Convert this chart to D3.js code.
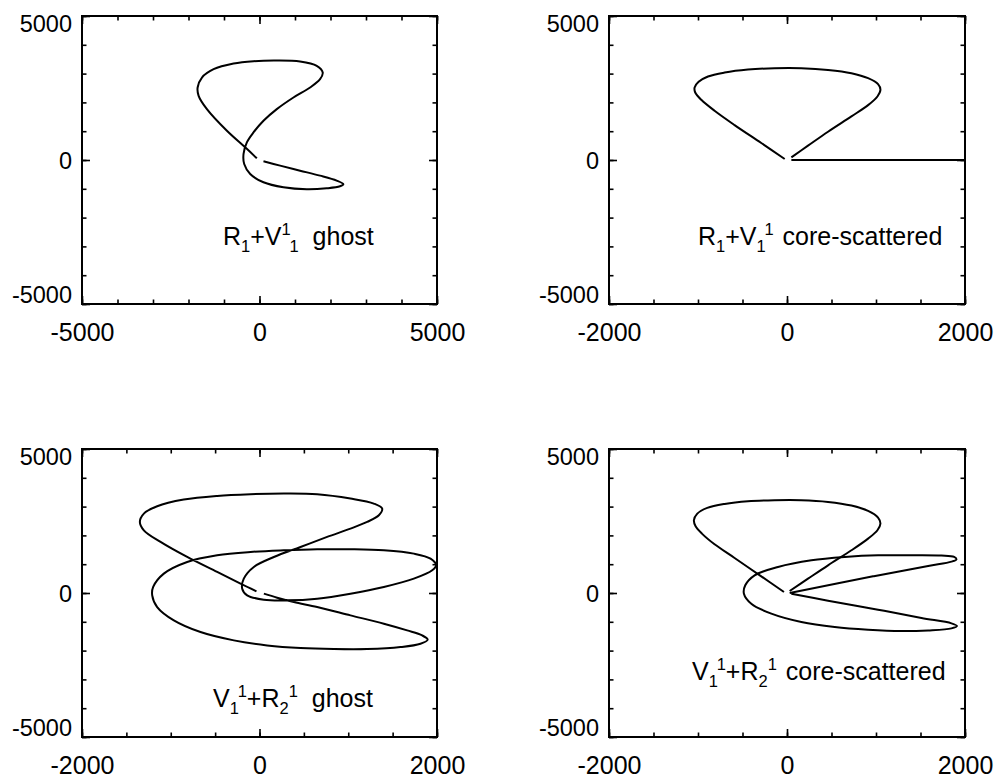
<!DOCTYPE html>
<html>
<head>
<meta charset="utf-8">
<title>Ghost and core-scattered curves</title>
<script src="https://cdn.jsdelivr.net/npm/d3@7"></script>
<style>
body { margin:0; background:#fff; }
text { font-family:"Liberation Sans", Arial, sans-serif; fill:#000; white-space:pre; }
</style>
</head>
<body>
<div id="chart"></div>
<script>
// tick labels
var xTicksWide = [-5000, 0, 5000];
var xTicksNarrow = [-2000, 0, 2000];
var yTicks = [-5000, 0, 5000];

// curves (data units)
var ghost1 = [[-75,58],[-403,439],[-918,1016],[-1481,1767],[-1715,2229],[-1743,2517],[-1621,2864],
  [-1293,3152],[-731,3349],[-169,3430],[487,3453],[1143,3418],[1612,3268],[1781,3037],[1706,2806],
  [1425,2517],[956,2171],[487,1767],[112,1363],[-169,958],[-356,612],[-450,208],[-431,-139],
  [-262,-485],[112,-774],[675,-947],[1331,-1016],[1893,-982],[2268,-912],[2362,-840],[2174,-716],
  [1706,-543],[1143,-370],[581,-196],[112,-46]];

var core1Loop = [[-26,35],[-289,589],[-589,1212],[-814,1709],[-963,2090],[-1031,2344],[-1038,2517],
  [-993,2714],[-888,2898],[-701,3037],[-439,3141],[-139,3187],[161,3187],[461,3129],[724,3014],
  [911,2841],[1023,2633],[1050,2436],[1016,2206],[911,1905],[724,1513],[461,982],[236,497],[49,92]];
var core1Tail = [[49,0],[2000,0]];

var ghost2 = [[-34,58],[-214,324],[-477,730],[-815,1251],[-1115,1773],[-1303,2178],[-1348,2468],
  [-1303,2758],[-1153,3013],[-853,3244],[-477,3372],[-101,3430],[274,3453],[650,3430],[1025,3279],
  [1288,3105],[1382,2932],[1345,2700],[1213,2468],[1025,2236],[762,1947],[462,1599],[162,1251],
  [-64,904],[-177,498],[-195,151],[-139,-81],[49,-232],[312,-255],[650,-197],[1025,-23],[1401,209],
  [1739,498],[1946,788],[1990,962],[1927,1193],[1739,1367],[1401,1483],[1025,1518],[650,1518],
  [274,1483],[-101,1425],[-477,1309],[-815,1078],[-1078,672],[-1198,209],[-1209,-81],[-1153,-487],
  [-965,-950],[-665,-1356],[-289,-1645],[86,-1819],[462,-1912],[838,-1947],[1213,-1947],[1589,-1877],
  [1814,-1761],[1895,-1622],[1833,-1472],[1664,-1298],[1401,-1066],[1025,-776],[650,-487],
  [387,-313],[199,-162],[49,-23]];

var core2Loop = [[-34,35],[-289,579],[-589,1217],[-814,1692],[-956,2063],[-1027,2317],[-1046,2526],
  [-1008,2758],[-896,2955],[-701,3094],[-439,3187],[-139,3221],[161,3221],[461,3163],[724,3036],
  [911,2851],[1023,2619],[1050,2410],[1016,2178],[911,1889],[724,1483],[461,962],[236,498],[30,70]];
var core2Lobes = [[30,0],[967,579],[1586,939],[1848,1089],[1904,1170],[1878,1251],[1736,1298],
  [1398,1309],[1023,1309],[649,1251],[274,1136],[-101,904],[-364,614],[-469,267],[-484,-23],
  [-401,-371],[-176,-718],[161,-1008],[536,-1182],[911,-1275],[1286,-1321],[1586,-1298],
  [1848,-1228],[1910,-1147],[1848,-1054],[1511,-870],[1023,-580],[461,-270],[49,-23]];

// annotation pieces: [text, "sub"|"sup"|""]
var label1 = [["R",""],["1","sub"],["+V",""],["1","sup"],["1","sub"],[" ghost",""]];
var label2 = [["R",""],["1","sub"],["+V",""],["1","sub"],["1","sup"],[" core-scattered",""]];
var label3 = [["V",""],["1","sub"],["1","sup"],["+R",""],["2","sub"],["1","sup"],[" ghost",""]];
var label4 = [["V",""],["1","sub"],["1","sup"],["+R",""],["2","sub"],["1","sup"],[" core-scattered",""]];

var panels = [
  {box:[82,16,437,304],  xd:[-5000,5000], xt:xTicksWide,   xm:1000, curves:[ghost1],               label:label1, lx:223, ly:245, gap:7},
  {box:[609,16,965,304], xd:[-2000,2000], xt:xTicksNarrow, xm:500,  curves:[core1Loop,core1Tail],  label:label2, lx:698, ly:245, gap:2},
  {box:[82,449,437,737], xd:[-2000,2000], xt:xTicksNarrow, xm:500,  curves:[ghost2],               label:label3, lx:213, ly:707, gap:7},
  {box:[609,449,965,737],xd:[-2000,2000], xt:xTicksNarrow, xm:500,  curves:[core2Loop,core2Lobes], label:label4, lx:692, ly:680, gap:2}
];

var svg = d3.select("#chart").append("svg")
    .attr("width", 995)
    .attr("height", 778);

var majorLen = 8, minorLen = 4.5;
var fmt = function(d) { return String(d); };

panels.forEach(function(p) {
    var x0 = p.box[0], y0 = p.box[1], x1 = p.box[2], y1 = p.box[3];
    var x = d3.scaleLinear().domain(p.xd).range([x0, x1]);
    var y = d3.scaleLinear().domain([-5000, 5000]).range([y1, y0]);
    var xMinor = d3.range(p.xd[0], p.xd[1] + 1, p.xm);
    var yMinor = d3.range(-5000, 5001, 1000);

    var g = svg.append("g");

    function styleAxis(sel, size) {
        sel.select(".domain").remove();
        sel.selectAll("line").attr("stroke", "#000").attr("stroke-width", 1.6);
        sel.selectAll("text").attr("font-size", size || 24).attr("font-family", "Liberation Sans, Arial, sans-serif");
    }

    // minor ticks, all four sides, pointing inward
    g.append("g").attr("transform", "translate(0," + y1 + ")")
        .call(d3.axisBottom(x).tickValues(xMinor).tickSize(-minorLen).tickFormat("")).call(styleAxis);
    g.append("g").attr("transform", "translate(0," + y0 + ")")
        .call(d3.axisTop(x).tickValues(xMinor).tickSize(-minorLen).tickFormat("")).call(styleAxis);
    g.append("g").attr("transform", "translate(" + x0 + ",0)")
        .call(d3.axisLeft(y).tickValues(yMinor).tickSize(-minorLen).tickFormat("")).call(styleAxis);
    g.append("g").attr("transform", "translate(" + x1 + ",0)")
        .call(d3.axisRight(y).tickValues(yMinor).tickSize(-minorLen).tickFormat("")).call(styleAxis);

    // major ticks with labels
    g.append("g").attr("transform", "translate(0," + y1 + ")")
        .call(d3.axisBottom(x).tickValues(p.xt).tickSize(-majorLen).tickPadding(19).tickFormat(fmt))
        .call(styleAxis, 25);
    g.append("g").attr("transform", "translate(0," + y0 + ")")
        .call(d3.axisTop(x).tickValues(p.xt).tickSize(-majorLen).tickFormat("")).call(styleAxis);
    var yl = g.append("g").attr("transform", "translate(" + x0 + ",0)")
        .call(d3.axisLeft(y).tickValues(yTicks).tickSize(-majorLen).tickPadding(10).tickFormat(fmt))
        .call(styleAxis, 23.5);
    g.append("g").attr("transform", "translate(" + x1 + ",0)")
        .call(d3.axisRight(y).tickValues(yTicks).tickSize(-majorLen).tickFormat("")).call(styleAxis);

    // end labels on the y axis sit inside the frame height
    yl.selectAll(".tick text").attr("dy", function(d) {
        return d === 5000 ? "0.68em" : d === -5000 ? "-0.05em" : "0.38em";
    });

    // frame
    g.append("rect")
        .attr("x", x0).attr("y", y0)
        .attr("width", x1 - x0).attr("height", y1 - y0)
        .attr("fill", "none").attr("stroke", "#000").attr("stroke-width", 2);

    // curves
    var line = d3.line()
        .x(function(d) { return x(d[0]); })
        .y(function(d) { return y(d[1]); })
        .curve(d3.curveCatmullRom.alpha(0.5));

    g.selectAll("path.curve")
        .data(p.curves)
        .enter()
        .append("path")
            .attr("class", "curve")
            .attr("d", line)
            .attr("fill", "none")
            .attr("stroke", "#000")
            .attr("stroke-width", 2);

    // annotation with sub/superscripts
    var t = g.append("text").attr("x", p.lx).attr("y", p.ly).attr("font-size", 25);
    var cur = 0;
    p.label.forEach(function(s) {
        var target = s[1] === "sub" ? 7 : s[1] === "sup" ? -10 : 0;
        t.append("tspan")
            .attr("dy", target - cur)
            .attr("dx", s[0].charAt(0) === " " ? p.gap : 0)
            .attr("font-size", s[1] ? 16.5 : 25)
            .text(s[0]);
        cur = target;
    });
});
</script>
</body>
</html>
